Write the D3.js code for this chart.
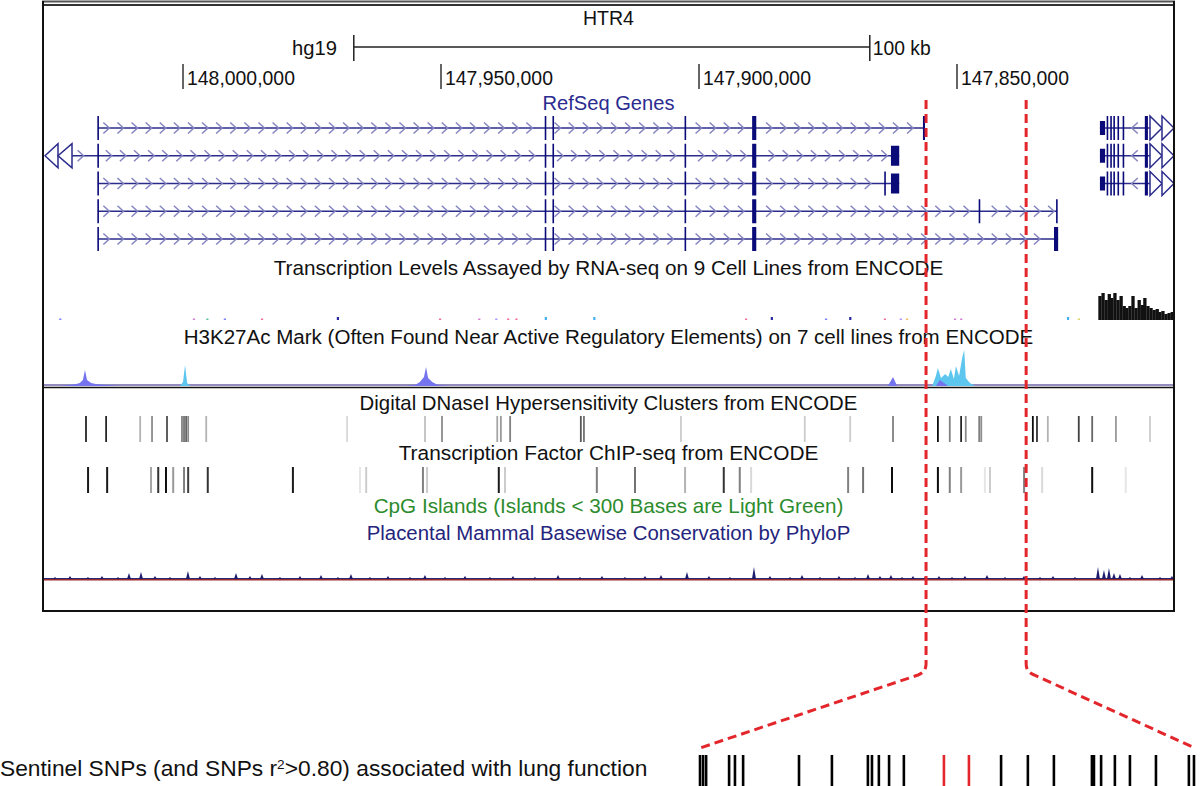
<!DOCTYPE html>
<html>
<head>
<meta charset="utf-8">
<script src="https://cdn.jsdelivr.net/npm/d3@7"></script>
<style>
  body { margin: 0; background: #fff; }
  svg { display: block; }
  text { font-family: "Liberation Sans", Arial, Helvetica, sans-serif; }
</style>
</head>
<body>
<div id="chart"></div>
<script>
// ---- data (genomic positions in kb, hg19 chr5) ----
const tickPositions = [148000, 147950, 147900, 147850];
const tickLabels = ["148,000,000", "147,950,000", "147,900,000", "147,850,000"];
const scaleBarKb = [147966.9, 147866.9];
const zoomWindowKb = [147856.0, 147836.6];

// HTR4 RefSeq transcripts, one per row
const txStart = [148016.5, 148030.0, 148016.5, 148016.5, 148016.5];
const txEnd = [147856.2, 147861.2, 147861.2, 147830.6, 147830.4];
const sharedExons = [[147929.9, 147929.7], [147928.4, 147928.2], [147902.8, 147902.6], [147889.7, 147888.9]];
const rowExons = [
  [[148016.6, 148016.4], [147856.6, 147856.2]],
  [[148016.6, 148016.4], [147862.8, 147861.2]],
  [[148016.6, 148016.4], [147864.1, 147863.9], [147862.8, 147861.2]],
  [[148016.6, 148016.4], [147845.8, 147845.6], [147830.8, 147830.6]],
  [[148016.6, 148016.4], [147831.2, 147830.4]]
];
// neighbouring gene at the right edge (rows 0-2)
const rightGeneStart = 147822.3;
const rightGeneExons = [[147822.3, 147821.3], [147821.0, 147820.8], [147820.3, 147820.1], [147819.7, 147819.5],
  [147818.9, 147818.7], [147817.9, 147817.7], [147813.6, 147813.0]];

// RNA-seq: sparse signal dots (cell line index) and the strong block at the right gene
const rnaDotKb = [148023.8, 147997.9, 147995.3, 147991.9, 147984.7, 147970.0, 147950.2, 147942.6, 147939.3, 147937.0,
  147935.4, 147929.7, 147920.3, 147890.9, 147885.9, 147875.4, 147870.7, 147864.0, 147860.9, 147859.7, 147850.4,
  147849.2, 147828.5, 147826.4];
const rnaDotValue = [1, 1, 1, 1, 1, 2, 1, 1, 1, 1, 1, 2, 2, 1, 2, 1, 2, 1, 1, 1, 1, 1, 2, 1];
const rnaDotCell = [0, 1, 2, 0, 4, 3, 4, 1, 8, 4, 4, 5, 5, 4, 3, 0, 3, 4, 8, 7, 1, 1, 5, 6];
const rnaBlockKb = [147822.3, 147821.7, 147821.1, 147820.5, 147820.0, 147819.4, 147818.8, 147818.2, 147817.6, 147817.1,
  147816.5, 147815.9, 147815.3, 147814.7, 147814.1, 147813.6, 147813.0, 147812.4, 147811.8, 147811.2, 147810.7,
  147810.1, 147809.5, 147808.9, 147808.3];
const rnaBlockValue = [24, 27, 20, 26, 22, 27, 20, 24, 14, 12, 14, 24, 12, 20, 15, 22, 14, 12, 10, 11, 8, 9, 6, 7, 8];

// H3K27Ac signal [kb, value]
const h3kPurple = [[148023.8, 0], [148021.9, 1], [148020.7, 2], [148020.0, 3], [148019.4, 6], [148019.0, 16],
  [148018.6, 6], [148017.8, 3], [148016.9, 2], [148015.1, 1], [148012.2, 0], [147957.0, 0], [147955.0, 1],
  [147954.1, 4], [147953.3, 9], [147952.9, 19], [147952.5, 8], [147951.7, 4], [147950.6, 1], [147948.3, 0],
  [147863.4, 0], [147862.4, 9], [147861.6, 0], [147854.1, 0], [147853.3, 6], [147852.5, 3], [147851.7, 0]];
const h3kCyan = [[148000.6, 0], [148000.0, 4], [147999.6, 21], [147999.2, 3], [147998.6, 0], [147854.8, 0],
  [147854.1, 10], [147853.7, 18], [147853.1, 8], [147852.3, 12], [147851.7, 9], [147851.2, 17], [147850.6, 7],
  [147850.2, 20], [147849.6, 10], [147849.0, 28], [147848.6, 36], [147848.3, 8], [147847.5, 3], [147846.5, 0]];

// DNaseI clusters and TF ChIP-seq clusters (score 0..1)
const dnaseKb = [148018.8, 148014.9, 148008.3, 148006.0, 148003.1, 148000.2, 147999.8, 147999.4, 147999.0, 147995.5,
  147968.2, 147953.1, 147949.8, 147939.1, 147938.4, 147936.6, 147922.9, 147922.3, 147903.5, 147879.5, 147870.7,
  147862.4, 147853.7, 147851.4, 147849.2, 147848.3, 147845.7, 147845.3, 147835.3, 147834.5, 147832.4, 147826.4,
  147823.8, 147819.2, 147812.6];
const dnaseScore = [0.85, 0.85, 0.3, 0.45, 0.7, 0.5, 0.55, 0.6, 0.45, 0.3, 0.15, 0.25, 0.45, 0.35, 0.4, 0.5, 0.65,
  0.55, 0.2, 0.2, 0.2, 0.5, 0.95, 0.5, 0.85, 0.45, 0.5, 0.45, 0.95, 0.8, 0.3, 0.75, 0.6, 0.4, 0.2];
const tfbsKb = [148018.4, 148014.7, 148006.2, 148004.8, 148003.3, 148001.9, 147999.8, 147999.0, 147995.2, 147978.7,
  147965.7, 147964.5, 147953.5, 147952.7, 147938.8, 147937.6, 147919.8, 147912.4, 147902.7, 147895.2, 147892.1,
  147889.9, 147871.1, 147868.2, 147862.6, 147853.7, 147851.4, 147849.2, 147844.6, 147843.6, 147837.0, 147833.5,
  147823.8, 147817.3];
const tfbsScore = [0.9, 0.9, 0.35, 0.8, 0.95, 0.4, 0.5, 0.75, 0.8, 0.9, 0.1, 0.2, 0.5, 0.2, 0.9, 0.2, 0.5, 0.55,
  0.3, 0.8, 0.5, 0.15, 0.5, 0.55, 0.95, 0.95, 0.5, 0.4, 0.1, 0.2, 0.5, 0.15, 0.95, 0.1];

// PhyloP conservation spikes
const consKb = [148024.81, 148021.90, 148018.42, 148015.70, 148012.60, 148010.47, 148008.14, 148005.43, 148002.52,
  147999.04, 147996.71, 147993.80, 147989.73, 147987.02, 147984.70, 147981.21, 147977.33, 147973.26, 147969.97,
  147967.45, 147963.77, 147960.28, 147956.01, 147953.11, 147949.23, 147945.35, 147940.51, 147936.05, 147931.79,
  147927.33, 147923.07, 147918.80, 147914.35, 147910.47, 147907.37, 147902.33, 147898.07, 147894.00, 147889.35,
  147886.25, 147882.37, 147880.04, 147876.56, 147872.87, 147869.77, 147867.25, 147864.93, 147862.80, 147860.66,
  147858.53, 147856.21, 147853.49, 147850.97, 147848.46, 147844.19, 147840.70, 147837.02, 147833.92, 147831.40,
  147827.14, 147822.68, 147821.52, 147820.55, 147819.58, 147818.42, 147816.48, 147814.15, 147810.66, 147808.34];
const consScore = [0.5, 0.75, 0.5, 0.75, 0.5, 1.5, 1.75, 0.75, 0.5, 2.0, 0.75, 0.5, 1.5, 0.75, 1.25, 0.5, 0.75, 1.0,
  0.5, 1.25, 0.5, 0.75, 0.5, 1.0, 0.5, 0.75, 0.5, 0.75, 0.5, 1.0, 0.5, 0.75, 0.5, 0.75, 1.0, 1.75, 0.75, 0.5, 3.0,
  0.75, 0.5, 1.0, 0.5, 0.75, 0.5, 1.25, 0.75, 1.0, 0.5, 0.75, 0.5, 0.75, 0.5, 0.75, 1.0, 0.5, 0.75, 0.5, 0.75, 0.5,
  3.0, 2.25, 2.75, 1.5, 1.25, 0.5, 1.0, 0.5, 0.75];

// lung function SNPs in the zoomed window
const snpKb = [147856.00, 147855.88, 147855.76, 147854.86, 147854.63, 147854.31, 147852.12, 147850.83, 147849.42,
  147849.26, 147848.99, 147848.59, 147848.01, 147846.44, 147845.46, 147844.20, 147843.15, 147842.13, 147840.64,
  147840.56, 147840.28, 147839.74, 147839.15, 147838.13, 147836.84, 147836.64];
const snpSentinel = [147846.44, 147845.46];

// ---- drawing ----
const width = 1200, height = 786;
const left = 43, right = 1174, mid = (left + right) / 2;
const cellColors = ["#7f7fff", "#d27fd2", "#5fbfa0", "#2a2aa5", "#f0709a", "#40b0f0", "#d8d860", "#f0c060", "#b090ff"];

const svg = d3.select("#chart").append("svg").attr("width", width).attr("height", height);

const x = d3.scaleLinear().domain([148000, 147850]).range([183, 957]);
const xSnp = d3.scaleLinear().domain(zoomWindowKb).range([700, 1195]);
const rowY = d3.scaleLinear().domain([0, 4]).range([128, 239]);

svg.append("clipPath").attr("id", "clip")
  .append("rect").attr("x", left + 1).attr("y", 0).attr("width", right - left - 2).attr("height", 612);

function fit(t, w) {
  const cur = t.node().getComputedTextLength();
  t.attr("font-size", parseFloat(t.attr("font-size")) * w / cur);
  return t;
}
function label(txt, y, w, color) {
  const t = svg.append("text").attr("x", mid).attr("y", y).attr("text-anchor", "middle")
    .attr("font-size", 20).attr("fill", color || "#111").text(txt);
  return fit(t, w);
}

// frame
svg.append("line").attr("x1", left - 1).attr("x2", right + 1).attr("y1", 1.5).attr("y2", 1.5).attr("stroke", "#555").attr("stroke-width", 2);
svg.append("line").attr("x1", left - 1).attr("x2", right + 1).attr("y1", 5).attr("y2", 5).attr("stroke", "#333").attr("stroke-width", 2);
svg.append("line").attr("x1", left).attr("x2", left).attr("y1", 1).attr("y2", 612).attr("stroke", "#111").attr("stroke-width", 2);
svg.append("line").attr("x1", right).attr("x2", right).attr("y1", 1).attr("y2", 612).attr("stroke", "#111").attr("stroke-width", 2);
svg.append("line").attr("x1", left - 1).attr("x2", right + 1).attr("y1", 611).attr("y2", 611).attr("stroke", "#111").attr("stroke-width", 2);
svg.append("line").attr("x1", left).attr("x2", right).attr("y1", 387.5).attr("y2", 387.5).attr("stroke", "#111").attr("stroke-width", 1.5);

// header: gene name, scale bar, coordinate ticks
label("HTR4", 25, 51);
fit(svg.append("text").attr("x", 337).attr("y", 55).attr("text-anchor", "end").attr("font-size", 20).attr("fill", "#111").text("hg19"), 45);
const bar = svg.append("g").attr("stroke", "#222").attr("stroke-width", 1.5);
bar.append("line").attr("x1", x(scaleBarKb[0])).attr("x2", x(scaleBarKb[1])).attr("y1", 47).attr("y2", 47);
scaleBarKb.forEach(k => bar.append("line").attr("x1", x(k)).attr("x2", x(k)).attr("y1", 35).attr("y2", 61));
fit(svg.append("text").attr("x", x(scaleBarKb[1]) + 3).attr("y", 55).attr("font-size", 20).attr("fill", "#111").text("100 kb"), 58);

const ticks = svg.append("g").selectAll("g").data(tickPositions).enter().append("g");
ticks.append("line").attr("x1", d => x(d)).attr("x2", d => x(d)).attr("y1", 64).attr("y2", 89)
  .attr("stroke", "#333").attr("stroke-width", 1.5);
ticks.append("text").attr("x", d => x(d) + 4).attr("y", 85).attr("font-size", 20).attr("fill", "#111")
  .text((d, i) => tickLabels[i]).each(function () { fit(d3.select(this), 108); });

// RefSeq genes
label("RefSeq Genes", 110, 132, "#2b2b90");
const genes = svg.append("g").attr("clip-path", "url(#clip)");
const lineCol = "#2b2b8c", exonCol = "#0a0a78", chevCol = "#8585c0";
function exonRect(g, e, y, h) {
  const x0 = x(e[0]), x1 = x(e[1]);
  g.append("rect").attr("x", x0).attr("y", y - h / 2).attr("width", Math.max(1.6, x1 - x0)).attr("height", h).attr("fill", exonCol);
}
txStart.forEach((s, r) => {
  const y = rowY(r);
  const xa = Math.max(x(s), left + 15), xb = x(txEnd[r]);
  genes.append("line").attr("x1", xa).attr("x2", xb).attr("y1", y).attr("y2", y).attr("stroke", lineCol).attr("stroke-width", 1.6);
  const exons = sharedExons.concat(rowExons[r]);
  const centers = exons.map(e => (x(e[0]) + x(e[1])) / 2);
  for (let cx = xa + 9; cx < xb - 5; cx += 14.1) {
    if (centers.some(c => Math.abs(c - cx) < 5)) continue;
    genes.append("path").attr("d", `M${cx - 3.5},${y - 5.5}L${cx + 2.5},${y}L${cx - 3.5},${y + 5.5}`)
      .attr("fill", "none").attr("stroke", chevCol).attr("stroke-width", 1.5);
  }
  exons.forEach(e => exonRect(genes, e, y, (x(e[1]) - x(e[0])) > 5 ? 20 : 24));
  if (x(s) < left) {
    [[left + 2, left + 15], [left + 15, left + 29]].forEach(t => {
      genes.append("path").attr("d", `M${t[0]},${y}L${t[1]},${y - 12}L${t[1]},${y + 12}Z`)
        .attr("fill", "#fff").attr("stroke", lineCol).attr("stroke-width", 1.5);
    });
  }
});
[0, 1, 2].forEach(r => {
  const y = rowY(r);
  genes.append("line").attr("x1", x(rightGeneStart)).attr("x2", right).attr("y1", y).attr("y2", y).attr("stroke", lineCol).attr("stroke-width", 1.6);
  const cx = (x(rightGeneExons[5][1]) + x(rightGeneExons[6][0])) / 2;
  genes.append("path").attr("d", `M${cx + 3.5},${y - 5.5}L${cx - 2.5},${y}L${cx + 3.5},${y + 5.5}`)
    .attr("fill", "none").attr("stroke", chevCol).attr("stroke-width", 1.5);
  rightGeneExons.forEach((e, i) => exonRect(genes, e, y, i === 0 ? 14 : 24));
  [[right - 24, right - 12], [right - 12, right]].forEach(t => {
    genes.append("path").attr("d", `M${t[1]},${y}L${t[0]},${y - 12}L${t[0]},${y + 12}Z`)
      .attr("fill", "#fff").attr("stroke", lineCol).attr("stroke-width", 1.5);
  });
});

// RNA-seq
label("Transcription Levels Assayed by RNA-seq on 9 Cell Lines from ENCODE", 275, 670);
const yR = d3.scaleLinear().domain([0, 30]).range([320, 290]);
const rna = svg.append("g").attr("clip-path", "url(#clip)");
rna.selectAll("rect.dot").data(rnaDotKb).enter().append("rect")
  .attr("x", d => x(d) - 1).attr("width", 2.2)
  .attr("y", (d, i) => yR(rnaDotValue[i] * 1.5)).attr("height", (d, i) => yR(0) - yR(rnaDotValue[i] * 1.5))
  .attr("fill", (d, i) => cellColors[rnaDotCell[i]]);
rna.selectAll("rect.blk").data(rnaBlockKb).enter().append("rect")
  .attr("x", d => x(d) - 1.6).attr("width", 3.3)
  .attr("y", (d, i) => yR(rnaBlockValue[i])).attr("height", (d, i) => yR(0) - yR(rnaBlockValue[i]))
  .attr("fill", "#111");

// H3K27Ac
label("H3K27Ac Mark (Often Found Near Active Regulatory Elements) on 7 cell lines from ENCODE", 344, 850);
const yH = d3.scaleLinear().domain([0, 40]).range([386, 346]);
const h3 = svg.append("g").attr("clip-path", "url(#clip)");
h3.append("line").attr("x1", left).attr("x2", right).attr("y1", 385).attr("y2", 385)
  .attr("stroke", "#7a70b0").attr("stroke-width", 2).attr("opacity", 0.8);
const area = d3.area().x(d => x(d[0])).y0(yH(0)).y1(d => yH(d[1]));
h3.append("path").datum(h3kCyan).attr("d", area).attr("fill", "#5cc6ee");
h3.append("path").datum(h3kPurple).attr("d", area).attr("fill", "#7474ee");

// DNase & TFBS
label("Digital DNaseI Hypersensitivity Clusters from ENCODE", 410, 498);
const grey = d3.interpolateRgb("#ffffff", "#000000");
const tracks = svg.append("g").attr("clip-path", "url(#clip)");
tracks.selectAll("line.dn").data(dnaseKb).enter().append("line")
  .attr("x1", d => x(d)).attr("x2", d => x(d)).attr("y1", 416).attr("y2", 442)
  .attr("stroke", (d, i) => grey(dnaseScore[i])).attr("stroke-width", 1.8);
label("Transcription Factor ChIP-seq from ENCODE", 460, 420);
tracks.selectAll("line.tf").data(tfbsKb).enter().append("line")
  .attr("x1", d => x(d)).attr("x2", d => x(d)).attr("y1", 467).attr("y2", 493)
  .attr("stroke", (d, i) => grey(tfbsScore[i])).attr("stroke-width", 2);

// CpG + conservation
label("CpG Islands (Islands < 300 Bases are Light Green)", 513, 470, "#2d8c2d");
label("Placental Mammal Basewise Conservation by PhyloP", 540, 484, "#24247c");
const yC = d3.scaleLinear().domain([0, 3]).range([579, 567]);
const cons = svg.append("g").attr("clip-path", "url(#clip)");
cons.append("line").attr("x1", left).attr("x2", right).attr("y1", 578.5).attr("y2", 578.5).attr("stroke", "#2a2a7a").attr("stroke-width", 1);
cons.append("line").attr("x1", left).attr("x2", right).attr("y1", 579.8).attr("y2", 579.8).attr("stroke", "#992a2a").attr("stroke-width", 1.4);
cons.selectAll("path").data(consKb).enter().append("path")
  .attr("d", (d, i) => `M${x(d) - 2},${yC(0)}L${x(d)},${yC(consScore[i])}L${x(d) + 2},${yC(0)}Z`)
  .attr("fill", "#1c1c6e");

// zoom guides
const zl = x(zoomWindowKb[0]), zr = x(zoomWindowKb[1]);
const guides = svg.append("g").attr("fill", "none").attr("stroke", "#e3262b").attr("stroke-width", 3).attr("stroke-dasharray", "9,5");
guides.append("path").attr("d", `M${zl},100V664Q${zl},672 ${zl - 8},675L${xSnp(zoomWindowKb[0])},748`);
guides.append("path").attr("d", `M${zr},100V664Q${zr},672 ${zr + 8},675L${xSnp(zoomWindowKb[1])},748`);

// SNPs
svg.append("g").selectAll("line").data(snpKb).enter().append("line")
  .attr("x1", d => xSnp(d)).attr("x2", d => xSnp(d)).attr("y1", 755).attr("y2", 786)
  .attr("stroke", d => snpSentinel.includes(d) ? "#e3262b" : "#000").attr("stroke-width", 2.6);
const snpText = svg.append("text").attr("x", 0).attr("y", 776).attr("font-size", 20).attr("fill", "#111");
snpText.append("tspan").text("Sentinel SNPs (and SNPs r");
snpText.append("tspan").attr("dy", -7).attr("font-size", "0.6em").text("2");
snpText.append("tspan").attr("dy", 7).text(">0.80) associated with lung function");
fit(snpText, 648);
</script>
</body>
</html>
